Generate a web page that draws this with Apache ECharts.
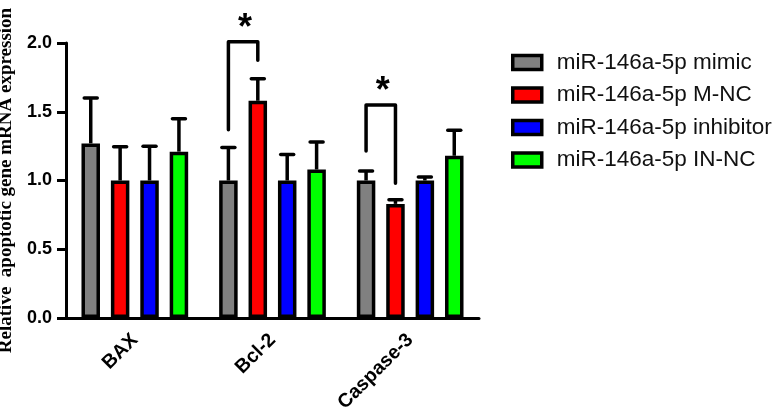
<!DOCTYPE html>
<html><head><meta charset="utf-8">
<script src="https://cdn.jsdelivr.net/npm/echarts@6/dist/echarts.min.js"></script>
<style>html,body{margin:0;padding:0;background:#fff}#c{width:779px;height:419px}</style>
</head><body><div id="c"></div>
<script>
const categories = ['BAX', 'Bcl-2', 'Caspase-3'];
const seriesNames = ['miR-146a-5p mimic', 'miR-146a-5p M-NC', 'miR-146a-5p inhibitor', 'miR-146a-5p IN-NC'];
const mimic      = [1.27, 1.00, 1.00];
const mNC        = [1.00, 1.58, 0.83];
const inhibitor  = [1.00, 1.00, 1.00];
const inNC       = [1.21, 1.08, 1.18];
const mimicErr     = [1.60, 1.24, 1.07];
const mNCErr       = [1.245, 1.74, 0.86];
const inhibitorErr = [1.25, 1.19, 1.025];
const inNCErr      = [1.45, 1.28, 1.365];
// significance brackets: [category, left bar, right bar, top, left leg end, right leg end]
const brackets = [
  [1, 0, 1, 2.01, 1.37, 1.875],
  [2, 0, 1, 1.55, 1.215, 0.98]
];
const yTicks = [0, 0.5, 1.0, 1.5, 2.0];

const colors = ['#808080', '#ff0000', '#0000ff', '#00ff00'];
const values = [mimic, mNC, inhibitor, inNC];
const errs = [mimicErr, mNCErr, inhibitorErr, inNCErr];
const BAR_W = 18.5, PITCH = 29.4;

const chart = echarts.init(document.getElementById('c'));
const barSeries = seriesNames.map((n, i) => ({
  name: n, type: 'bar', data: values[i], barWidth: BAR_W, barGap: ((PITCH - BAR_W) / BAR_W * 100) + '%',
  itemStyle: { color: colors[i], borderColor: '#000', borderWidth: 3.5 }, z: 2
}));
const errData = [];
values.forEach((arr, s) => arr.forEach((v, c) => errData.push([c, v, errs[s][c], s])));

const option = {
  animation: false,
  grid: { left: 66, right: 300, top: 43, bottom: 101, outerBoundsMode: 'none', containLabel: false },
  legend: {
    orient: 'vertical', left: 506, top: 46, icon: 'rect', itemWidth: 29, itemHeight: 14, itemGap: 9.5,
    data: seriesNames,
    itemStyle: { borderColor: '#000', borderWidth: 3.5 },
    textStyle: { fontFamily: 'Liberation Sans, Arial', fontSize: 22.5, color: '#111', padding: [0,0,0,10] }
  },
  xAxis: {
    type: 'category', data: categories,
    axisLine: { lineStyle: { color: '#000', width: 3 } },
    axisTick: { alignWithLabel: true, length: 8, lineStyle: { width: 3, color: '#000' } },
    axisLabel: { rotate: 45, margin: 19, color: '#000', fontWeight: 'bold', fontSize: 19.5, fontFamily: 'Liberation Sans, Arial' }
  },
  yAxis: {
    type: 'value', min: yTicks[0], max: yTicks[yTicks.length - 1], interval: 0.5,
    name: 'Relative  apoptotic gene mRNA expression', nameLocation: 'middle', nameGap: 49,
    nameTextStyle: { fontFamily: 'Liberation Serif, Times New Roman', fontWeight: 'bold', fontSize: 19, color: '#000' },
    axisLine: { show: true, lineStyle: { color: '#000', width: 3 } },
    axisTick: { show: true, length: 9, lineStyle: { width: 3, color: '#000' } },
    splitLine: { show: false },
    axisLabel: { margin: 14, color: '#000', fontWeight: 'bold', fontSize: 18, fontFamily: 'Liberation Sans, Arial',
      formatter: v => v.toFixed(1) }
  },
  series: [
    ...barSeries,
    {
      type: 'custom', data: errData, z: 1, silent: true, clip: false,
      encode: { x: 0, y: [1, 2] },
      renderItem: (params, api) => {
        const c = api.value(0), v = api.value(1), e = api.value(2), s = api.value(3);
        const p0 = api.coord([c, v]), p1 = api.coord([c, e]);
        const x = p0[0] + (s - 1.5) * PITCH;
        const st = { stroke: '#000', lineWidth: 3.5 };
        return { type: 'group', children: [
          { type: 'line', shape: { x1: x, y1: p0[1], x2: x, y2: p1[1] }, style: st },
          { type: 'line', shape: { x1: x - 6.5, y1: p1[1], x2: x + 6.5, y2: p1[1] }, style: { stroke: '#000', lineWidth: 3.5, lineCap: 'round' } }
        ]};
      }
    },
    {
      type: 'custom', data: brackets, z: 3, silent: true, clip: false,
      encode: { x: 0, y: [3, 4, 5] },
      renderItem: (params, api) => {
        const c = api.value(0), l = api.value(1), r = api.value(2);
        const top = api.coord([c, api.value(3)]);
        const lb = api.coord([c, api.value(4)]);
        const rb = api.coord([c, api.value(5)]);
        const xl = top[0] + (l - 1.5) * PITCH, xr = top[0] + (r - 1.5) * PITCH;
        return { type: 'group', children: [
          { type: 'polyline', shape: { points: [[xl, lb[1]], [xl, top[1]], [xr, top[1]], [xr, rb[1]]] },
            style: { stroke: '#000', lineWidth: 3.5, fill: null, lineJoin: 'round', lineCap: 'round' } },
          { type: 'text', style: { text: '*', x: (xl + xr) / 2 + 2, y: top[1] + 5, align: 'center', verticalAlign: 'bottom',
            fontSize: 36, fontWeight: 'bold', fontFamily: 'Liberation Sans, Arial', fill: '#000' } }
        ]};
      }
    }
  ]
};
chart.setOption(option);
</script></body></html>
